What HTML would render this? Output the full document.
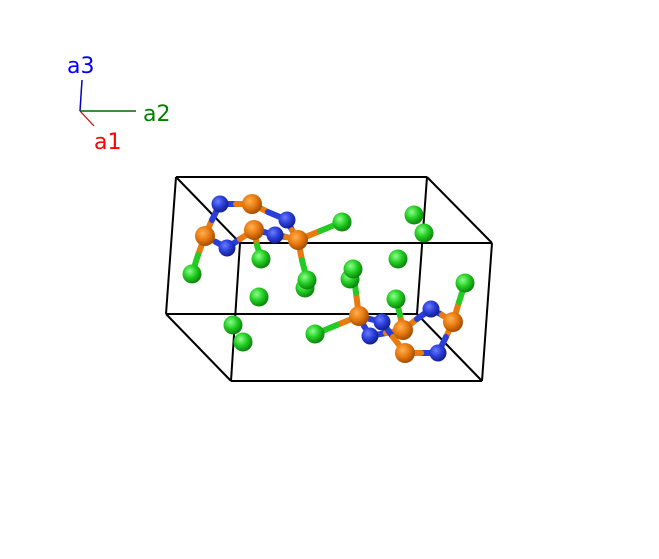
<!DOCTYPE html>
<html><head><meta charset="utf-8"><style>
html,body{margin:0;padding:0;background:#fff;width:659px;height:559px;overflow:hidden}
svg{display:block}
text{font-family:"DejaVu Sans","Liberation Sans",sans-serif;font-size:22px}
</style></head><body>
<svg width="659" height="559" viewBox="0 0 659 559" xmlns="http://www.w3.org/2000/svg">
<defs>
<radialGradient id="gO" cx="0.38" cy="0.35" r="0.7"><stop offset="0" stop-color="#ffb050"/><stop offset="0.5" stop-color="#e87a10"/><stop offset="1" stop-color="#9a4800"/></radialGradient>
<radialGradient id="gB" cx="0.38" cy="0.35" r="0.7"><stop offset="0" stop-color="#6a7cff"/><stop offset="0.5" stop-color="#2a3ed8"/><stop offset="1" stop-color="#101a80"/></radialGradient>
<radialGradient id="gG" cx="0.38" cy="0.35" r="0.7"><stop offset="0" stop-color="#8cff8c"/><stop offset="0.5" stop-color="#22cc22"/><stop offset="1" stop-color="#0a7a0a"/></radialGradient>
</defs>
<line x1="80" y1="111" x2="82" y2="80" stroke="#0000cc" stroke-width="1.5"/>
<line x1="80" y1="111" x2="136" y2="111" stroke="#006600" stroke-width="1.5"/>
<line x1="80" y1="111" x2="94" y2="126" stroke="#cc0000" stroke-width="1.2"/>
<text x="67" y="73" fill="#0000ff">a3</text>
<text x="143" y="121" fill="#008000">a2</text>
<text x="94" y="149" fill="#ff0000">a1</text>
<g stroke="#000" stroke-width="2" fill="none">
<line x1="176" y1="177" x2="427" y2="177"/>
<line x1="176" y1="177" x2="166" y2="314"/>
<line x1="427" y1="177" x2="417" y2="314"/>
<line x1="166" y1="314" x2="417" y2="314"/>
<line x1="176" y1="177" x2="240" y2="243"/>
<line x1="427" y1="177" x2="492" y2="243"/>
<line x1="166" y1="314" x2="231" y2="381"/>
<line x1="417" y1="314" x2="482" y2="381"/>
<line x1="240" y1="243" x2="492" y2="243"/>
<line x1="240" y1="243" x2="231" y2="381"/>
<line x1="492" y1="243" x2="482" y2="381"/>
<line x1="231" y1="381" x2="482" y2="381"/>
</g>
<g stroke-width="6" stroke-linecap="round">
<line x1="205" y1="236" x2="212" y2="220" stroke="#e87a10"/><line x1="212" y1="220" x2="220" y2="204" stroke="#2a3ed8"/>
<line x1="220" y1="204" x2="236" y2="204" stroke="#2a3ed8"/><line x1="236" y1="204" x2="252" y2="204" stroke="#e87a10"/>
<line x1="252" y1="204" x2="268" y2="212" stroke="#e87a10"/><line x1="268" y1="212" x2="287" y2="220" stroke="#2a3ed8"/>
<line x1="205" y1="236" x2="216" y2="242" stroke="#e87a10"/><line x1="216" y1="242" x2="227" y2="248" stroke="#2a3ed8"/>
<line x1="227" y1="248" x2="240" y2="239" stroke="#2a3ed8"/><line x1="240" y1="239" x2="254" y2="230" stroke="#e87a10"/>
<line x1="254" y1="230" x2="264" y2="232" stroke="#e87a10"/><line x1="264" y1="232" x2="275" y2="235" stroke="#2a3ed8"/>
<line x1="287" y1="220" x2="292" y2="230" stroke="#2a3ed8"/><line x1="292" y1="230" x2="298" y2="240" stroke="#e87a10"/>
<line x1="275" y1="235" x2="286" y2="237" stroke="#2a3ed8"/><line x1="286" y1="237" x2="298" y2="240" stroke="#e87a10"/>
<line x1="205" y1="236" x2="198" y2="255" stroke="#e87a10"/><line x1="198" y1="255" x2="192" y2="274" stroke="#22cc22"/>
<line x1="254" y1="230" x2="257" y2="245" stroke="#e87a10"/><line x1="257" y1="245" x2="261" y2="259" stroke="#22cc22"/>
<line x1="298" y1="240" x2="320" y2="231" stroke="#e87a10"/><line x1="320" y1="231" x2="342" y2="222" stroke="#22cc22"/>
<line x1="298" y1="240" x2="302" y2="260" stroke="#e87a10"/><line x1="302" y1="260" x2="307" y2="280" stroke="#22cc22"/>
<line x1="359" y1="316" x2="356" y2="293" stroke="#e87a10"/><line x1="356" y1="293" x2="353" y2="269" stroke="#22cc22"/>
<line x1="359" y1="316" x2="337" y2="325" stroke="#e87a10"/><line x1="337" y1="325" x2="315" y2="334" stroke="#22cc22"/>
<line x1="359" y1="316" x2="370" y2="319" stroke="#e87a10"/><line x1="370" y1="319" x2="382" y2="322" stroke="#2a3ed8"/>
<line x1="359" y1="316" x2="364" y2="326" stroke="#e87a10"/><line x1="364" y1="326" x2="370" y2="336" stroke="#2a3ed8"/>
<line x1="370" y1="336" x2="386" y2="333" stroke="#2a3ed8"/><line x1="386" y1="333" x2="403" y2="330" stroke="#e87a10"/>
<line x1="382" y1="322" x2="393" y2="337" stroke="#2a3ed8"/><line x1="393" y1="337" x2="405" y2="353" stroke="#e87a10"/>
<line x1="403" y1="330" x2="400" y2="315" stroke="#e87a10"/><line x1="400" y1="315" x2="396" y2="299" stroke="#22cc22"/>
<line x1="403" y1="330" x2="417" y2="319" stroke="#e87a10"/><line x1="417" y1="319" x2="431" y2="309" stroke="#2a3ed8"/>
<line x1="431" y1="309" x2="442" y2="315" stroke="#2a3ed8"/><line x1="442" y1="315" x2="453" y2="322" stroke="#e87a10"/>
<line x1="453" y1="322" x2="459" y2="302" stroke="#e87a10"/><line x1="459" y1="302" x2="465" y2="283" stroke="#22cc22"/>
<line x1="453" y1="322" x2="446" y2="337" stroke="#e87a10"/><line x1="446" y1="337" x2="438" y2="353" stroke="#2a3ed8"/>
<line x1="438" y1="353" x2="421" y2="353" stroke="#2a3ed8"/><line x1="421" y1="353" x2="405" y2="353" stroke="#e87a10"/>
</g>
<g>
<circle cx="414" cy="215" r="9.5" fill="url(#gG)"/>
<circle cx="424" cy="233" r="9.5" fill="url(#gG)"/>
<circle cx="398" cy="259" r="9.5" fill="url(#gG)"/>
<circle cx="350" cy="279" r="9.5" fill="url(#gG)"/>
<circle cx="353" cy="269" r="9.5" fill="url(#gG)"/>
<circle cx="305" cy="288" r="9.5" fill="url(#gG)"/>
<circle cx="307" cy="280" r="9.5" fill="url(#gG)"/>
<circle cx="259" cy="297" r="9.5" fill="url(#gG)"/>
<circle cx="261" cy="259" r="9.5" fill="url(#gG)"/>
<circle cx="192" cy="274" r="9.5" fill="url(#gG)"/>
<circle cx="342" cy="222" r="9.5" fill="url(#gG)"/>
<circle cx="233" cy="325" r="9.5" fill="url(#gG)"/>
<circle cx="243" cy="342" r="9.5" fill="url(#gG)"/>
<circle cx="315" cy="334" r="9.5" fill="url(#gG)"/>
<circle cx="396" cy="299" r="9.5" fill="url(#gG)"/>
<circle cx="465" cy="283" r="9.5" fill="url(#gG)"/>
<circle cx="220" cy="204" r="8.5" fill="url(#gB)"/>
<circle cx="227" cy="248" r="8.5" fill="url(#gB)"/>
<circle cx="275" cy="235" r="8.5" fill="url(#gB)"/>
<circle cx="287" cy="220" r="8.5" fill="url(#gB)"/>
<circle cx="252" cy="204" r="10" fill="url(#gO)"/>
<circle cx="205" cy="236" r="10" fill="url(#gO)"/>
<circle cx="254" cy="230" r="10" fill="url(#gO)"/>
<circle cx="298" cy="240" r="10" fill="url(#gO)"/>
<circle cx="370" cy="336" r="8.5" fill="url(#gB)"/>
<circle cx="382" cy="322" r="8.5" fill="url(#gB)"/>
<circle cx="431" cy="309" r="8.5" fill="url(#gB)"/>
<circle cx="438" cy="353" r="8.5" fill="url(#gB)"/>
<circle cx="359" cy="316" r="10" fill="url(#gO)"/>
<circle cx="405" cy="353" r="10" fill="url(#gO)"/>
<circle cx="403" cy="330" r="10" fill="url(#gO)"/>
<circle cx="453" cy="322" r="10" fill="url(#gO)"/>
</g>
</svg>
</body></html>
